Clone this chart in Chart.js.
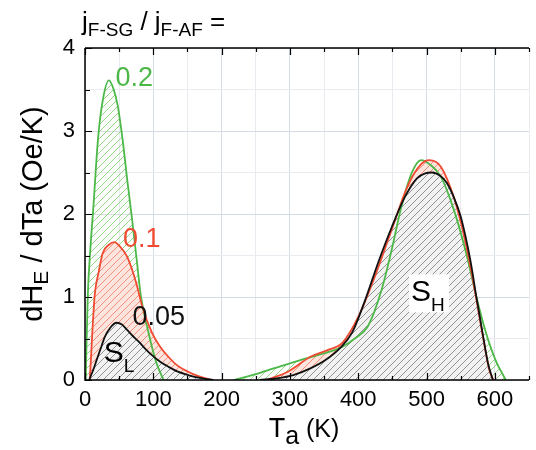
<!DOCTYPE html>
<html>
<head>
<meta charset="utf-8">
<script src="https://cdn.jsdelivr.net/npm/chart.js@4/dist/chart.umd.min.js"></script>
<style>
html,body{margin:0;padding:0;background:#fff;}
#wrap{width:536px;height:450px;position:relative;}
</style>
</head>
<body>
<div id="wrap"><canvas id="c" width="536" height="450"></canvas></div>
<script>
// ---- data ----
const T_green_low = [1, 4, 8, 12, 19, 26, 35, 42, 48, 55, 62, 68, 75, 82, 93, 104, 115];
const H_green_low = [0, 1.0, 1.6, 2.05, 2.9, 3.37, 3.61, 3.5, 3.3, 2.9, 2.4, 2.0, 1.5, 1.0, 0.57, 0.22, 0];
const T_green_high = [218, 250, 276, 300, 324, 350, 362, 377, 395, 415, 434, 449, 463, 478, 492, 506, 521, 540, 558, 573, 587, 601, 616];
const H_green_high = [0, 0.07, 0.14, 0.2, 0.26, 0.32, 0.35, 0.4, 0.5, 0.66, 1.08, 1.57, 2.08, 2.49, 2.65, 2.59, 2.45, 2.05, 1.53, 1.0, 0.57, 0.24, 0];

const T_red_low = [7, 14, 20, 26, 35, 43, 52, 62, 75, 84, 98, 110, 122, 136, 151, 165, 185];
const H_red_low = [0, 1.0, 1.3, 1.53, 1.63, 1.66, 1.6, 1.48, 1.17, 0.88, 0.57, 0.4, 0.28, 0.17, 0.1, 0.05, 0];
const T_red_high = [266, 297, 330, 355, 377, 400, 424, 449, 472, 492, 504, 521, 540, 554, 568, 580, 592, 598];
const H_red_high = [0, 0.1, 0.28, 0.36, 0.45, 0.76, 1.24, 1.81, 2.33, 2.6, 2.65, 2.57, 2.2, 1.77, 1.2, 0.64, 0.12, 0];

const T_black_low = [6, 12, 17, 23, 29, 37, 46, 54, 62, 70, 79, 89, 98, 110, 122, 136, 151, 168, 188];
const H_black_low = [0, 0.12, 0.24, 0.38, 0.52, 0.63, 0.69, 0.67, 0.6, 0.53, 0.46, 0.37, 0.3, 0.22, 0.16, 0.1, 0.06, 0.025, 0];
const T_black_high = [256, 280, 305, 330, 352, 374, 391, 410, 429, 449, 468, 486, 498, 508, 520, 530, 540, 550, 564, 573, 583, 590, 597];
const H_black_high = [0, 0.02, 0.06, 0.14, 0.24, 0.39, 0.57, 0.96, 1.41, 1.84, 2.2, 2.43, 2.49, 2.5, 2.46, 2.37, 2.2, 1.97, 1.45, 1.0, 0.52, 0.2, 0];

const xTickLabels = [0, 100, 200, 300, 400, 500, 600];
const yTickLabels = [0, 1, 2, 3, 4];
const seriesLabels = ['0.05', '0.1', '0.2'];

// ---- styling ----
const GREEN = '#4cb848';
const RED = '#f04a32';
const BLACK = '#111111';
const FONT = '"Liberation Sans", Arial, Helvetica, sans-serif';

function pts(xs, ys){ return xs.map((x,i)=>({x:x, y:ys[i]})); }

function hatch(bg, fg, size, lw){
  const c = document.createElement('canvas');
  c.width = size; c.height = size;
  const g = c.getContext('2d');
  if (bg){ g.fillStyle = bg; g.fillRect(0,0,size,size); }
  g.strokeStyle = fg; g.lineWidth = lw;
  g.beginPath();
  g.moveTo(0,size); g.lineTo(size,0);
  g.moveTo(-2,2); g.lineTo(2,-2);
  g.moveTo(size-2,size+2); g.lineTo(size+2,size-2);
  g.stroke();
  return g.createPattern(c,'repeat');
}
const patGreen = hatch(null, '#86d276', 7, 0.9);
const patRed = hatch('#fde5df', '#f2846f', 7, 0.9);
const patBlack = hatch('#f2f2f2', '#7a7a7a', 7, 0.8);

function ds(data, color, pat, order){
  return {
    data: data, borderColor: color, borderWidth: 1.8, backgroundColor: pat,
    fill: 'origin', pointRadius: 0, pointHoverRadius: 0,
    cubicInterpolationMode: 'monotone', order: order
  };
}

function drawParts(ctx, parts, x, y, align){
  let w = 0;
  parts.forEach(p=>{ ctx.font = p.size + 'px ' + FONT; p.w = ctx.measureText(p.t).width; w += p.w; });
  let cx = align === 'center' ? x - w/2 : x;
  ctx.textAlign = 'left';
  ctx.textBaseline = 'alphabetic';
  parts.forEach(p=>{
    ctx.font = p.size + 'px ' + FONT;
    ctx.fillStyle = p.color || '#000';
    ctx.fillText(p.t, cx, y + (p.dy||0));
    cx += p.w;
  });
  return w;
}

const annotations = [
  {x: 72, y: 3.66, parts:[{t:'0.2', size:27, color:GREEN}]},
  {x: 83, y: 1.72, parts:[{t:'0.1', size:27, color:RED}]},
  {x: 108, y: 0.78, parts:[{t:'0.05', size:27, color:BLACK}]},
];

const framePlugin = {
  id: 'frame',
  afterDraw(chart){
    const ctx = chart.ctx;
    const a = chart.chartArea;
    const xs = chart.scales.x, ys = chart.scales.y;
    ctx.save();
    // S_H label with white box
    const shx = xs.getPixelForValue(492), shy = ys.getPixelForValue(1.08);
    ctx.fillStyle = '#fff';
    ctx.fillRect(shx - 12, shy - 16, 40, 38);
    drawParts(ctx, [{t:'S', size:30},{t:'H', size:19, dy:10}], shx-10, shy+11, 'left');
    // S_L label
    const slx = xs.getPixelForValue(42), sly = ys.getPixelForValue(0.35);
    drawParts(ctx, [{t:'S', size:30},{t:'L', size:19, dy:10}], slx-10, sly+11, 'left');
    // numeric labels
    annotations.forEach(an=>{
      drawParts(ctx, an.parts, xs.getPixelForValue(an.x), ys.getPixelForValue(an.y)+10, 'center');
    });
    // frame
    ctx.strokeStyle = '#000';
    ctx.lineWidth = 1.5;
    ctx.beginPath();
    ctx.moveTo(a.left, a.top); ctx.lineTo(a.left, a.bottom); ctx.lineTo(a.right, a.bottom);
    ctx.moveTo(a.left, a.top); ctx.lineTo(a.right, a.top);
    ctx.stroke();
    // inward ticks
    ctx.lineWidth = 1.2;
    ctx.beginPath();
    for (let v = 0; v <= 650; v += 50){
      const px = Math.round(xs.getPixelForValue(v)) + 0.5;
      const L = (v % 100 === 0) ? 7 : 4;
      ctx.moveTo(px, a.bottom); ctx.lineTo(px, a.bottom - L);
      ctx.moveTo(px, a.top); ctx.lineTo(px, a.top + L);
    }
    for (let v = 0; v <= 4; v += 0.5){
      const py = Math.round(ys.getPixelForValue(v)) + 0.5;
      const L = (v % 1 === 0) ? 7 : 5;
      ctx.moveTo(a.left, py); ctx.lineTo(a.left + L, py);
    }
    ctx.stroke();
    // titles
    drawParts(ctx, [{t:'j', size:26},{t:'F-SG', size:19, dy:6},{t:' / ', size:26},{t:'j', size:26},{t:'F-AF', size:19, dy:6},{t:' =', size:26}], 82, 30, 'left');
    const cx = (a.left + a.right)/2;
    drawParts(ctx, [{t:'T', size:27},{t:'a', size:25, dy:7},{t:' (K)', size:25}], cx - 3, 437, 'center');
    ctx.translate(42, (a.top + a.bottom)/2);
    ctx.rotate(-Math.PI/2);
    drawParts(ctx, [{t:'dH', size:29},{t:'E', size:21, dy:6},{t:' / dTa (Oe/K)', size:29}], 0, 0, 'center');
    ctx.restore();
  }
};

new Chart(document.getElementById('c'), {
  type: 'line',
  data: {
    datasets: [
      ds(pts(T_black_low, H_black_low), BLACK, patBlack, 1),
      ds(pts(T_black_high, H_black_high), BLACK, patBlack, 1),
      ds(pts(T_red_low, H_red_low), RED, patRed, 2),
      ds(pts(T_red_high, H_red_high), RED, patRed, 2),
      ds(pts(T_green_low, H_green_low), GREEN, patGreen, 3),
      ds(pts(T_green_high, H_green_high), GREEN, patGreen, 3),
    ]
  },
  options: {
    responsive: false,
    animation: false,
    devicePixelRatio: 1,
    layout: { padding: { left: 0, right: 0, top: 48, bottom: 0 } },
    plugins: {
      legend: { display: false },
      tooltip: { enabled: false },
      filler: { drawTime: 'beforeDatasetsDraw' }
    },
    scales: {
      x: {
        type: 'linear', min: 0, max: 650,
        afterFit: (s)=>{ s.height = 70; },
        ticks: {
          stepSize: 50, autoSkip: false, maxRotation: 0, padding: 7,
          color: '#000', font: { family: FONT, size: 22 },
          callback: (v)=> xTickLabels.includes(v) ? String(v) : ''
        },
        grid: { drawTicks: false, color: (c)=> (c.tick && c.tick.value % 100 === 0) ? '#d5dce5' : '#e8ecf1', lineWidth: 1 },
        border: { display: false }
      },
      y: {
        min: 0, max: 4,
        afterFit: (s)=>{ s.width = 85; },
        ticks: {
          stepSize: 0.5, padding: 10,
          color: '#000', font: { family: FONT, size: 22 },
          callback: (v)=> yTickLabels.includes(v) ? String(v) : ''
        },
        grid: { drawTicks: false, color: (c)=> (c.tick && c.tick.value % 1 === 0) ? '#d5dce5' : '#e8ecf1', lineWidth: 1 },
        border: { display: false }
      }
    }
  },
  plugins: [framePlugin]
});
</script>
</body>
</html>
